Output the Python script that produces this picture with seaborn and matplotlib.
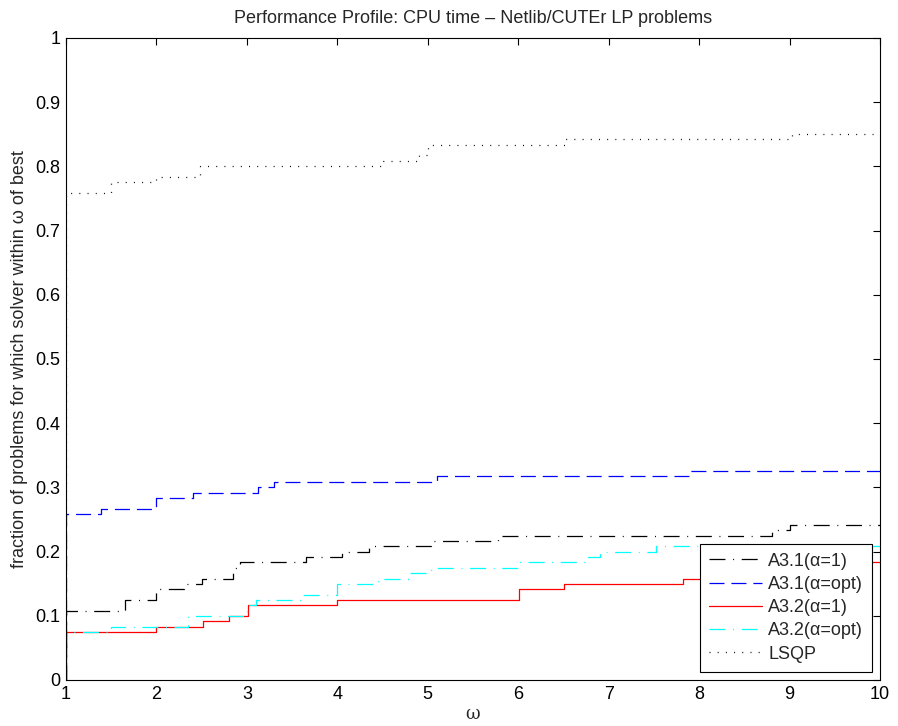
import numpy as np
import pandas as pd
import matplotlib
matplotlib.use('Agg')
import matplotlib.pyplot as plt
import seaborn as sns

sns.set_style('white')
plt.rcParams['font.family'] = ['Liberation Sans', 'DejaVu Sans']
plt.rcParams['lines.scale_dashes'] = False

# performance profile step data (omega, fraction)
a31_w = [1, 1, 1.65, 2.0, 2.3, 2.5, 2.85, 2.92, 3.65, 4.05, 4.35, 5.03, 5.78, 8.8, 9.0, 10]
a31_y = [0, 0.108, 0.125, 0.142, 0.150, 0.158, 0.175, 0.183, 0.192, 0.200, 0.208, 0.217, 0.225, 0.233, 0.242, 0.242]

a31opt_w = [1, 1, 1.39, 2.0, 2.4, 3.12, 3.3, 5.1, 7.9, 10]
a31opt_y = [0, 0.258, 0.267, 0.283, 0.292, 0.300, 0.308, 0.317, 0.325, 0.325]

a32_w = [1, 1, 2.0, 2.51, 2.8, 3.01, 4.0, 6.01, 6.51, 7.82, 8.5, 9.0, 9.3, 10]
a32_y = [0, 0.075, 0.083, 0.092, 0.100, 0.117, 0.125, 0.142, 0.150, 0.158, 0.167, 0.175, 0.183, 0.183]

a32opt_w = [1, 1, 1.5, 2.35, 3.0, 3.1, 3.6, 4.0, 4.45, 4.8, 5.03, 6.0, 6.76, 6.9, 7.52, 10]
a32opt_y = [0, 0.075, 0.083, 0.100, 0.117, 0.125, 0.133, 0.150, 0.158, 0.167, 0.175, 0.183, 0.192, 0.200, 0.208, 0.208]

lsqp_w = [1, 1, 1.5, 2.0, 2.48, 4.5, 4.9, 5.0, 6.52, 9.03, 10]
lsqp_y = [0, 0.758, 0.775, 0.783, 0.800, 0.808, 0.817, 0.833, 0.842, 0.850, 0.850]

labels = ['A3.1(\u03b1=1)', 'A3.1(\u03b1=opt)', 'A3.2(\u03b1=1)', 'A3.2(\u03b1=opt)', 'LSQP']
series = [(a31_w, a31_y), (a31opt_w, a31opt_y), (a32_w, a32_y), (a32opt_w, a32opt_y), (lsqp_w, lsqp_y)]
colors = ['black', 'blue', 'red', 'cyan', 'black']
dashes = [(0, (11.5, 5.5, 0.7, 5.5)), (0, (10.8, 5.0)), '-', (0, (11.5, 5.5, 0.7, 5.5)), (0, (0.7, 5.2))]

fig = plt.figure(figsize=(8.98, 7.26), dpi=100)
ax = fig.add_axes([0.0735, 0.0634, 0.9065, 0.8843])

for lab, (w, y), c, ls in zip(labels, series, colors, dashes):
    df = pd.DataFrame({'omega': w, 'frac': y})
    sns.lineplot(data=df, x='omega', y='frac', ax=ax, color=c, linestyle=ls,
                 drawstyle='steps-post', estimator=None, sort=False,
                 linewidth=0.9, label=lab)

ax.set_xlim(1, 10)
ax.set_ylim(0, 1)
ax.set_xticks(range(1, 11))
ax.set_yticks(np.arange(0, 1.01, 0.1))
ax.set_yticklabels(['0', '0.1', '0.2', '0.3', '0.4', '0.5', '0.6', '0.7', '0.8', '0.9', '1'])
ax.tick_params(direction='in', top=True, right=True, length=5, width=0.8,
               labelsize=13, colors='black', pad=4)
for s in ax.spines.values():
    s.set_color('black')
    s.set_linewidth(0.8)

ax.set_title('Performance Profile: CPU time \u2013 Netlib/CUTEr LP problems', fontsize=13, pad=11)
ax.set_xlabel('\u03c9', fontsize=13, family=['DejaVu Serif'], labelpad=2)
ax.set_ylabel('fraction of problems for which solver within \u03c9 of best', fontsize=13, labelpad=5)

leg = ax.legend(loc='lower right', fontsize=13, frameon=True, fancybox=False,
                edgecolor='black', framealpha=1, handlelength=2.9, handletextpad=0.35,
                borderpad=0.5, borderaxespad=0.45, labelspacing=0.35)
leg.get_frame().set_linewidth(0.8)

fig.savefig('out.png', dpi=100)
